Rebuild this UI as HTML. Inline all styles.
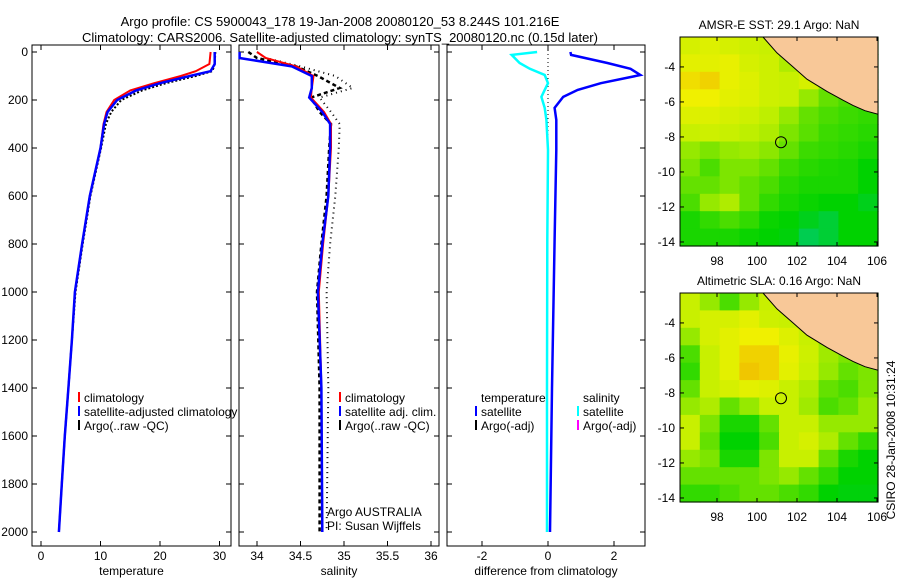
<!DOCTYPE html>
<html><head><meta charset="utf-8"><style>
body{margin:0;background:#fff;}
svg{display:block;font-family:"Liberation Sans",sans-serif;}
</style></head><body>
<svg id="fig" width="900" height="580" viewBox="0 0 900 580" xmlns="http://www.w3.org/2000/svg">
<g id="root"></g>
</svg>
<script>
// ---- profile data ----
const tDepth = [0,50,80,100,130,160,200,250,300,400,600,800,1000,1200,1400,1600,1800,2000];
const tClim  = [28.5,28.3,26,23.5,19,15,12.3,11,10.5,10,8.2,6.9,5.7,5.2,4.6,4,3.5,3];
const tSat   = [29.2,29.2,28.5,25,20,16,12.8,11.2,10.6,10,8.2,6.9,5.7,5.2,4.6,4,3.5,3];
const tArgo  = [29.3,29.2,28.8,26,21,17,13.5,11.8,10.9,10.1,8.3,7,5.8,5.2,4.6,4,3.5,3];
const sDepth = [0,25,60,100,150,190,250,300,400,600,800,1000,1400,2000];
const sClim  = [34.0,34.1,34.45,34.65,34.63,34.62,34.77,34.85,34.85,34.82,34.76,34.71,34.74,34.75];
const sSat   = [33.8,33.8,34.4,34.63,34.63,34.6,34.75,34.84,34.84,34.82,34.75,34.7,34.74,34.75];
const sArgo  = [33.9,34.0,34.45,34.7,34.95,34.62,34.72,34.85,34.83,34.8,34.74,34.69,34.72,34.72];
const sRaw   = [34.0,34.1,34.5,34.9,35.1,34.72,34.85,34.95,34.94,34.9,34.84,34.8,34.82,34.8];
const dDepth = [0,12,46,70,96,130,158,187,233,283,408,783,1400,2000];
const dTemp  = [0.68,0.7,1.8,2.5,2.8,1.6,0.9,0.46,0.2,0.25,0.25,0.2,0.12,0.06];
const dSal   = [-0.33,-1.1,-0.86,-0.55,-0.1,0,-0.1,-0.2,-0.1,-0.05,0,-0.02,-0.03,-0.03];
const depthTicks = [0,200,400,600,800,1000,1200,1400,1600,1800,2000];
const tTicks = [0,10,20,30];
const sTicks = [34,34.5,35,35.5,36];
const dTicks = [-2,0,2];
// ---- map data (rows top->bottom, cols west->east), 0..1 colour scale ----
const sstGrid = [
[.75,.78,.75,.72,.7,.6,.55,.5,.5,.45],
[.8,.8,.82,.75,.72,.65,.6,.5,.45,.4],
[.88,.9,.82,.78,.72,.7,.75,.6,.5,.4],
[.85,.85,.8,.78,.72,.7,.6,.5,.45,.4],
[.78,.78,.75,.72,.68,.6,.5,.45,.42,.4],
[.7,.72,.7,.68,.65,.55,.48,.42,.4,.38],
[.6,.55,.6,.62,.58,.5,.42,.4,.38,.35],
[.55,.45,.55,.55,.5,.42,.38,.36,.35,.3],
[.5,.5,.55,.5,.45,.38,.35,.35,.35,.3],
[.45,.6,.65,.5,.4,.35,.32,.3,.3,.25],
[.35,.4,.45,.4,.32,.3,.25,.2,.3,.3],
[.35,.35,.35,.32,.3,.28,.15,.2,.3,.3]];
const slaGrid = [
[.7,.6,.45,.6,.7,.65,.6,.55,.5,.5],
[.7,.75,.75,.8,.72,.7,.65,.6,.55,.5],
[.6,.75,.8,.85,.85,.78,.7,.6,.55,.5],
[.45,.7,.8,.9,.9,.82,.72,.62,.55,.5],
[.4,.7,.8,.92,.9,.8,.7,.6,.5,.55],
[.5,.7,.75,.8,.78,.7,.65,.5,.45,.55],
[.6,.65,.5,.6,.7,.7,.62,.45,.5,.6],
[.7,.55,.35,.35,.5,.7,.7,.6,.6,.6],
[.7,.5,.3,.3,.45,.7,.75,.65,.5,.4],
[.6,.55,.35,.35,.55,.7,.7,.5,.35,.3],
[.5,.5,.5,.5,.55,.6,.5,.4,.3,.3],
[.4,.4,.45,.5,.5,.45,.4,.3,.28,.28]];
const coastLon = [100.3,101,101.8,102.5,103.5,104.3,104.8,105.4,106.05,106.05];
const coastLat = [-2.29,-3.2,-4,-4.7,-5.4,-5.9,-6.2,-6.5,-6.7,-2.29];
const lonTicks = [98,100,102,104,106];
const latTicks = [-4,-6,-8,-10,-12,-14];
const argoLon = 101.2, argoLat = -8.3;

const NS="http://www.w3.org/2000/svg";
const root=document.getElementById('root');
function mk(tag,attrs,parent){const e=document.createElementNS(NS,tag);for(const k in attrs)e.setAttribute(k,attrs[k]);(parent||root).appendChild(e);return e;}
function txt(x,y,s,opt,parent){const e=mk('text',Object.assign({x:x,y:y,'font-size':12},opt||{}),parent);e.textContent=s;return e;}

const yD = d => 52 + d*0.24;
const PB = 546;
const panels = [
 {name:'temperature',x0:32,x1:231,sx:v=>41+v*5.95,ticks:tTicks,label:'temperature'},
 {name:'salinity',x0:239,x1:439,sx:v=>257+(v-34)*87,ticks:sTicks,label:'salinity'},
 {name:'difference',x0:447,x1:645,sx:v=>548+v*33,ticks:dTicks,label:'difference from climatology'}];

function line(xs,ds,sx,color,w,dash,name,parent){
  const pts=xs.map((v,i)=>sx(v).toFixed(1)+','+yD(ds[i]).toFixed(1)).join(' ');
  const p=mk('polyline',{points:pts,fill:'none',stroke:color,'stroke-width':w},parent);
  if(dash)p.setAttribute('stroke-dasharray',dash);
  
  
  return p;
}

panels.forEach((P,pi)=>{
  const g=mk('g',{});
  
  
  mk('rect',{x:P.x0,y:45,width:P.x1-P.x0,height:PB-45,fill:'#fff',stroke:'#000','stroke-width':1},g);
  depthTicks.forEach(d=>{
    mk('line',{x1:P.x0,x2:P.x0+5,y1:yD(d),y2:yD(d),stroke:'#000'},g);
    mk('line',{x1:P.x1-5,x2:P.x1,y1:yD(d),y2:yD(d),stroke:'#000'},g);
    if(pi===0){const t=txt(28,yD(d)+4,String(d),{'text-anchor':'end'},g);}
  });
  P.ticks.forEach(v=>{
    const x=P.sx(v);
    mk('line',{x1:x,x2:x,y1:PB,y2:PB-5,stroke:'#000'},g);
    mk('line',{x1:x,x2:x,y1:45,y2:50,stroke:'#000'},g);
    const t=txt(x,560,String(v),{'text-anchor':'middle'},g);
    
    
  });
  const at=txt((P.x0+P.x1)/2,575,P.label,{'text-anchor':'middle'},g);
  
  
  P.g=g;
});
// temperature
line(tArgo,tDepth,panels[0].sx,'#000',2,'2,2','argo-temperature',panels[0].g);
line(tClim,tDepth,panels[0].sx,'#f00',2,null,'climatology-temperature',panels[0].g);
line(tSat,tDepth,panels[0].sx,'#00f',2.5,null,'satellite-temperature',panels[0].g);
// salinity
line(sRaw,sDepth,panels[1].sx,'#000',2,'1,4','argo-raw-salinity',panels[1].g);
line(sArgo,sDepth,panels[1].sx,'#000',2.5,'4,3','argo-salinity',panels[1].g);
line(sClim,sDepth,panels[1].sx,'#f00',2,null,'climatology-salinity',panels[1].g);
line(sSat,sDepth,panels[1].sx,'#00f',2.5,null,'satellite-salinity',panels[1].g);
// diff
mk('line',{x1:548,x2:548,y1:50,y2:145,stroke:'#000','stroke-dasharray':'1,3'},panels[2].g);
line(dSal,dDepth,panels[2].sx,'#0ff',2.5,null,'salinity-difference',panels[2].g);
line(dTemp,dDepth,panels[2].sx,'#00f',2.5,null,'temperature-difference',panels[2].g);

// legends
function leg(x,y,color,label,name){
  const g=mk('g',{});
  
  
  if(color)mk('rect',{x:x-6,y:y-10,width:2,height:10,fill:color},g);
  txt(x,y,label,{},g);
}
leg(84,402,'#f00','climatology','legend-climatology');
leg(84,416,'#00f','satellite-adjusted climatology','legend-satellite');
leg(84,430,'#000','Argo(..raw -QC)','legend-argo');
leg(345,402,'#f00','climatology','legend-climatology-sal');
leg(345,416,'#00f','satellite adj. clim.','legend-satellite-sal');
leg(345,430,'#000','Argo(..raw -QC)','legend-argo-sal');
leg(481,402,null,'temperature','legend-temperature-head');
leg(481,416,'#00f','satellite','legend-temp-satellite');
leg(481,430,'#000','Argo(-adj)','legend-temp-argo');
leg(583,402,null,'salinity','legend-salinity-head');
leg(583,416,'#0ff','satellite','legend-sal-satellite');
leg(583,430,'#f0f','Argo(-adj)','legend-sal-argo');
// covering white behind text in panel1 legend overflow
txt(327,516,'Argo AUSTRALIA',{});
txt(327,530,'PI: Susan Wijffels',{});

// title
const t1=txt(340,26,'Argo profile: CS 5900043_178 19-Jan-2008 20080120_53 8.244S 101.216E',{'text-anchor':'middle','font-size':13});

const t2=txt(340,42,'Climatology: CARS2006. Satellite-adjusted climatology: synTS_20080120.nc (0.15d later)',{'text-anchor':'middle','font-size':13});


// colormap
const cmap=[[0,[0,200,160]],[0.3,[0,210,0]],[0.5,[100,225,0]],[0.7,[200,240,0]],[0.85,[240,240,0]],[1,[240,150,0]]];
function col(v){for(let i=1;i<cmap.length;i++){if(v<=cmap[i][0]){const a=cmap[i-1],b=cmap[i],f=(v-a[0])/(b[0]-a[0]);return 'rgb('+a[1].map((c,k)=>Math.round(c+(b[1][k]-c)*f)).join(',')+')';}}return 'rgb(240,150,0)';}

function drawMap(grid,top,title,name){
  const L=680,R=878,B=top+209,lon0=96.15,lon1=106.05,lat0=-2.29,lat1=-14.23;
  const mx=lon=>L+(lon-lon0)/(lon1-lon0)*(R-L);
  const my=lat=>top+(lat-lat0)/(lat1-lat0)*(B-top);
  const g=mk('g',{});
  
  
  const nr=grid.length,nc=grid[0].length,cw=(R-L)/nc,ch=(B-top)/nr;
  grid.forEach((row,r)=>row.forEach((v,c)=>{
    const cell=mk('rect',{x:(L+c*cw).toFixed(1),y:(top+r*ch).toFixed(1),width:(cw+0.6).toFixed(1),height:(ch+0.6).toFixed(1),fill:col(v)},g);
    
    
  }));
  const pts=coastLon.map((lo,i)=>mx(lo).toFixed(1)+','+my(coastLat[i]).toFixed(1)).join(' ');
  const land=mk('polygon',{points:pts,fill:'#f8c898',stroke:'#000','stroke-width':1},g);
  
  
  const c=mk('circle',{cx:mx(argoLon),cy:my(argoLat),r:5.5,fill:'none',stroke:'#000'},g);
  
  
  mk('rect',{x:L,y:top,width:R-L,height:B-top,fill:'none',stroke:'#000'},g);
  lonTicks.forEach(lo=>{const x=mx(lo);mk('line',{x1:x,x2:x,y1:B,y2:B-4,stroke:'#000'},g);mk('line',{x1:x,x2:x,y1:top,y2:top+4,stroke:'#000'},g);
    const t=txt(x,B+19,String(lo),{'text-anchor':'middle'},g);});
  latTicks.forEach(la=>{const y=my(la);mk('line',{x1:L,x2:L+4,y1:y,y2:y,stroke:'#000'},g);mk('line',{x1:R-4,x2:R,y1:y,y2:y,stroke:'#000'},g);
    const t=txt(L-5,y+4,String(la),{'text-anchor':'end'},g);});
  const tt=txt((L+R)/2,top-8,title,{'text-anchor':'middle'},g);
  
}
drawMap(sstGrid,37,'AMSR-E SST: 29.1 Argo: NaN','sst-map');
drawMap(slaGrid,293,'Altimetric SLA: 0.16 Argo: NaN','sla-map');
const st=txt(0,0,'CSIRO 28-Jan-2008 10:31:24',{'text-anchor':'middle',transform:'translate(895,440) rotate(-90)'});

</script>
</body></html>
